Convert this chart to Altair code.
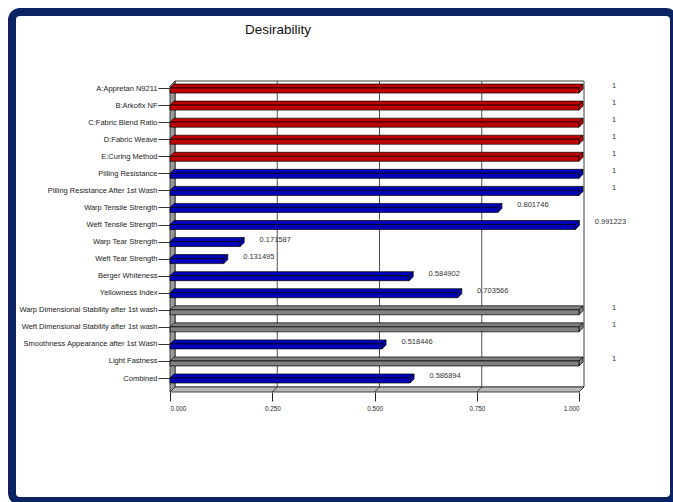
import json

import altair as alt
import pandas as pd

# ---- values -------------------------------------------------------------
categories = [
    "A:Appretan N9211",
    "B:Arkofix NF",
    "C:Fabric Blend Ratio",
    "D:Fabric Weave",
    "E:Curing Method",
    "Pilling Resistance",
    "Pilling Resistance After 1st  Wash",
    "Warp Tensile Strength",
    "Weft Tensile Strength",
    "Warp Tear Strength",
    "Weft Tear Strength",
    "Berger Whiteness",
    "Yellowness Index",
    "Warp Dimensional Stability after 1st wash",
    "Weft Dimensional Stability after 1st wash",
    "Smoothness Appearance after 1st Wash",
    "Light Fastness",
    "Combined",
]
desirability = [
    1, 1, 1, 1, 1, 1, 1,
    0.801746, 0.991223, 0.171587, 0.131495, 0.584902, 0.703566,
    1, 1, 0.518446, 1, 0.586894,
]
kinds = [
    "factor", "factor", "factor", "factor", "factor",
    "response", "response", "response", "response", "response",
    "response", "response", "response",
    "no goal", "no goal", "response", "no goal", "response",
]
x_ticks = [0, 0.25, 0.5, 0.75, 1.0]

# ---- look ---------------------------------------------------------------
KIND_ORDER = ["factor", "response", "no goal"]
FRONT_COLORS = ["#FF0000", "#0000E8", "#A8A8A8"]
TOP_COLORS = ["#C00000", "#0000B8", "#808080"]
SIDE_COLORS = ["#800000", "#000070", "#505050"]
FONT = "Liberation Sans, Arial, sans-serif"
NAVY = "#0B2461"

W, H = 409, 306
Y_MIN, Y_MAX = -0.12, 17.82
PX_PER_UNIT = H / (Y_MAX - Y_MIN)

WALL_PX = 5      # depth of the walls / floor
BAR_PX = 4       # depth of each bar
FRONT_PX = 5     # height of a bar's front face


def ux(px):
    return px / W


def uy(px):
    return px / PX_PER_UNIT


wdx, wdy = ux(WALL_PX), uy(WALL_PX)
bdx, bdy = ux(BAR_PX), uy(BAR_PX)
hf = uy(FRONT_PX)

positions = list(range(len(categories)))
label_expr = json.dumps(categories) + "[datum.value]"

xs = alt.Scale(domain=[0, 1], nice=False, zero=False)
ys = alt.Scale(domain=[Y_MIN, Y_MAX], nice=False, zero=False, reverse=True)
x_axis = alt.Axis(
    values=x_ticks, format=".3f", tickSize=9, tickColor="#222", tickWidth=1,
    labelPadding=4, labelFont=FONT, labelFontSize=6.3, labelColor="#222",
    domain=False, grid=False, title="", zindex=1,
)
y_axis = alt.Axis(
    values=positions, labelExpr=label_expr,
    tickSize=12, tickColor="#333", tickWidth=1, labelPadding=1,
    labelFont=FONT, labelFontSize=7.5, labelColor="#222", labelLimit=0,
    labelOverlap=False, labelBaseline="middle",
    domain=False, grid=False, title="", zindex=1,
)


# every layer shares the same scales and axis definitions
def X(field, **kw):
    return alt.X(field, type="quantitative", scale=xs, axis=x_axis, **kw)


def Y(field, **kw):
    return alt.Y(field, type="quantitative", scale=ys, axis=y_axis, **kw)


def kind_color(rng):
    return alt.Color("kind:N", scale=alt.Scale(domain=KIND_ORDER, range=rng), legend=None)


# ---- tables -------------------------------------------------------------
bars = pd.DataFrame({
    "name": categories,
    "value": desirability,
    "kind": kinds,
    "pos": positions,
})
bars["x0"] = 0.0
bars["y0"] = bars["pos"]
bars["y1"] = bars["pos"] + hf
bars["label"] = [f"{v:g}" for v in desirability]
bars["ly"] = bars["pos"] - 0.12

top_rows, side_rows = [], []
for name, v, k, p in zip(categories, desirability, kinds, positions):
    top_rows.append({"name": name, "kind": k, "yy": p, "xa": 0.0, "xb": v})
    top_rows.append({"name": name, "kind": k, "yy": p - bdy, "xa": bdx, "xb": v + bdx})
    side_rows.append({"name": name, "kind": k, "xx": v, "ya": p, "yb": p + hf})
    side_rows.append({"name": name, "kind": k, "xx": v + bdx, "ya": p - bdy, "yb": p + hf - bdy})
top_faces = pd.DataFrame(top_rows)
side_faces = pd.DataFrame(side_rows)

back_wall = pd.DataFrame({"xa": [wdx], "xb": [1 + wdx], "ya": [Y_MIN - wdy], "yb": [Y_MAX - wdy]})
grid = pd.DataFrame({"xx": [t + wdx for t in x_ticks[1:-1]], "ya": Y_MIN - wdy, "yb": Y_MAX - wdy})
left_wall = pd.DataFrame({"xx": [0.0, wdx], "ya": [Y_MIN, Y_MIN - wdy], "yb": [Y_MAX, Y_MAX - wdy]})
floor = pd.DataFrame({"yy": [Y_MAX, Y_MAX - wdy], "xa": [0.0, wdx], "xb": [1.0, 1 + wdx]})
floor_lines = pd.DataFrame(
    [{"t": t, "xx": t, "yy": Y_MAX} for t in x_ticks[1:-1]]
    + [{"t": t, "xx": t + wdx, "yy": Y_MAX - wdy} for t in x_ticks[1:-1]]
)

# ---- layers -------------------------------------------------------------
wall_layer = alt.Chart(back_wall).mark_rect(fill="white", stroke="#404040", strokeWidth=1).encode(
    x=X("xa"), x2="xb", y=Y("ya"), y2="yb"
)
grid_layer = alt.Chart(grid).mark_rule(color="#505050", strokeWidth=1).encode(
    x=X("xx"), y=Y("ya"), y2="yb"
)
left_layer = alt.Chart(left_wall).mark_area(
    orient="vertical", fill="#9A9A9A", stroke="#202020", strokeWidth=0.8
).encode(x=X("xx"), y=Y("ya", stack=None), y2="yb")
floor_layer = alt.Chart(floor).mark_area(
    orient="horizontal", fill="#B8B8B8", stroke="#202020", strokeWidth=0.8
).encode(y=Y("yy"), x=X("xa", stack=None), x2="xb")
floor_line_layer = alt.Chart(floor_lines).mark_line(color="#202020", strokeWidth=0.8).encode(
    x=X("xx"), y=Y("yy"), detail="t:N"
)

top_layer = alt.Chart(top_faces).mark_area(
    orient="horizontal", stroke="black", strokeWidth=0.7
).encode(
    y=Y("yy"), x=X("xa", stack=None), x2="xb",
    detail="name:N", color=kind_color(TOP_COLORS),
)
side_layer = alt.Chart(side_faces).mark_area(
    orient="vertical", stroke="black", strokeWidth=0.7
).encode(
    x=X("xx"), y=Y("ya", stack=None), y2="yb",
    detail="name:N", color=kind_color(SIDE_COLORS),
)
front_layer = alt.Chart(bars).mark_rect(stroke="black", strokeWidth=0.7).encode(
    x=X("x0"), x2="value", y=Y("y0"), y2="y1",
    color=kind_color(FRONT_COLORS),
)

text_layer = alt.Chart(bars).mark_text(
    align="center", baseline="middle", dx=35, font=FONT, fontSize=7.5, color="#333"
).encode(x=X("value"), y=Y("ly"), text="label:N")

# chart heading and outer frame
heading = alt.Chart(alt.Data(values=[{"t": "Desirability"}])).mark_text(
    align="center", baseline="alphabetic", font=FONT, fontSize=13.5, color="#111"
).encode(x=alt.value(278 - 170), y=alt.value(34 - 86), text="t:N")

frame_layer = alt.Chart(alt.Data(values=[{"k": 0}])).mark_rect(
    fillOpacity=0, stroke=NAVY, strokeWidth=8, cornerRadius=8
).encode(
    x=alt.value(12 - 170), x2=alt.value(674 - 170),
    y=alt.value(12 - 86), y2=alt.value(501 - 86),
)

chart = alt.layer(
    wall_layer, grid_layer, left_layer, floor_layer, floor_line_layer,
    top_layer, side_layer, front_layer, text_layer, heading, frame_layer,
).properties(
    width=W,
    height=H,
    autosize=alt.AutoSizeParams(type="none"),
    padding={"left": 170, "top": 86, "right": 94, "bottom": 110},
    background="white",
).configure_view(stroke=None)

chart.save("out.html", embed_options={"renderer": "svg", "actions": False})
